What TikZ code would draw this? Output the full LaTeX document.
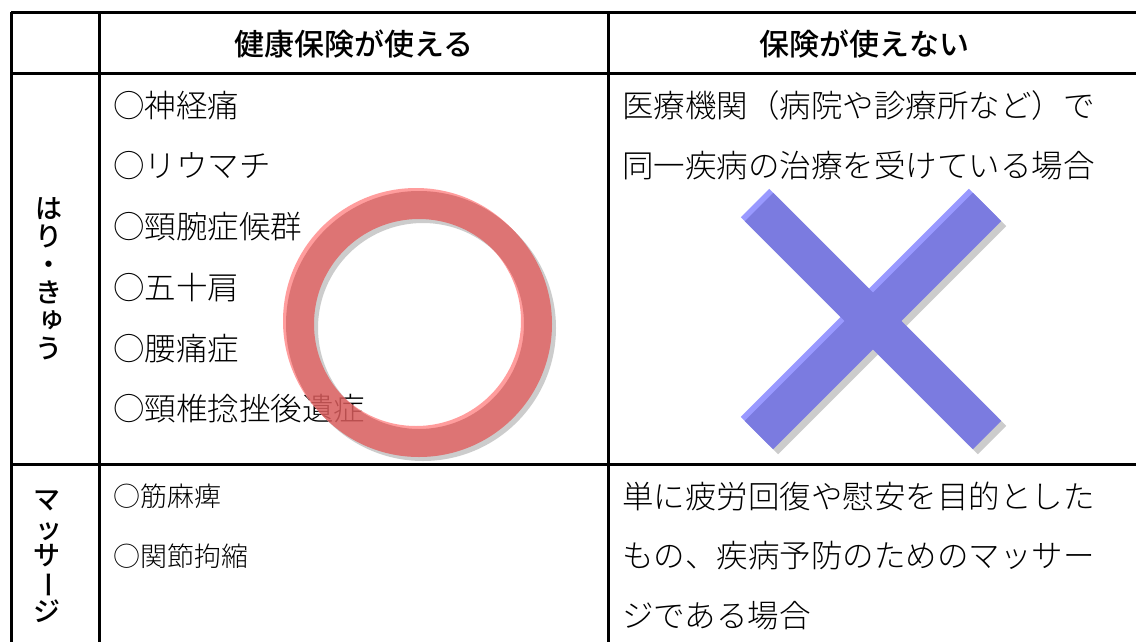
\documentclass[tikz,border=0pt]{standalone}
\usepackage{fontspec}
\newfontfamily\jpgoth{Noto Sans CJK JP}[UprightFont={* Medium}]
\newfontfamily\jplight{Noto Sans CJK JP}[UprightFont={* Light}]
\definecolor{ringmain}{RGB}{216,92,92}
\definecolor{ringlight}{RGB}{255,140,140}
\definecolor{ringshadow}{RGB}{196,196,196}
\definecolor{xmain}{RGB}{123,123,224}
\definecolor{xlight}{RGB}{153,153,255}
\definecolor{xshadow}{RGB}{204,204,204}
\tikzset{
  gridline/.style={line width=3pt, black},
  headtext/.style={font=\jpgoth\fontsize{30}{30}\selectfont, inner sep=0pt},
  sidechar/.style={font=\jpgoth\fontsize{27}{27}\selectfont, inner sep=0pt, text height=20pt, text depth=2pt},
  bodytext/.style={font=\jplight\fontsize{31.5}{31.5}\selectfont, anchor=west, inner sep=0pt},
  smalltext/.style={font=\jplight\fontsize{27}{27}\selectfont, anchor=west, inner sep=0pt},
  xbar/.style={line width=40pt, line cap=butt},
}
\begin{document}
\begin{tikzpicture}[x=1pt, y=-1pt]
\useasboundingbox (0,0) rectangle (1136,641);
\fill[white] (0,0) rectangle (1136,641);
\clip (0,0) rectangle (1136,641);
% grid
\coordinate (tl) at (11,12);
\coordinate (tr) at (1140,12);
\coordinate (hl) at (11,73);
\coordinate (hr) at (1140,73);
\coordinate (rl) at (11,464);
\coordinate (rr) at (1140,464);
\coordinate (bl) at (11,650);
\coordinate (c1t) at (99,12);
\coordinate (c1b) at (99,650);
\coordinate (c2t) at (608,12);
\coordinate (c2b) at (608,650);
\draw[gridline] (tl) -- (tr);
\draw[gridline] (hl) -- (hr);
\draw[gridline] (rl) -- (rr);
\draw[gridline] (tl) -- (bl);
\draw[gridline] (c1t) -- (c1b);
\draw[gridline] (c2t) -- (c2b);
% headers
\node[headtext] (h1) at (354,44) {健康保険が使える};
\node[headtext] (h2) at (864,44) {保険が使えない};
% side labels (vertical)
\node[sidechar] (s1a) at (49,209) {は};
\node[sidechar] (s1b) at (49,237) {り};
\node[sidechar] (s1c) at (49,265) {・};
\node[sidechar] (s1d) at (49,293) {き};
\node[sidechar] (s1e) at (52,318) {ゅ};
\node[sidechar] (s1f) at (49,349) {う};
\node[sidechar] (s2a) at (47,500) {マ};
\node[sidechar] (s2b) at (49,529) {ッ};
\node[sidechar] (s2c) at (47,556) {サ};
\node[sidechar, rotate=-90] (s2d) at (47,585) {ー};
\node[sidechar] (s2e) at (47,612) {ジ};
% body left top
\node[bodytext] (a1) at (113,106) {○神経痛};
\node[bodytext] (a2) at (113,166) {○リウマチ};
\node[bodytext] (a3) at (113,227) {○頸腕症候群};
\node[bodytext] (a4) at (113,288) {○五十肩};
\node[bodytext] (a5) at (113,349) {○腰痛症};
\node[bodytext] (a6) at (113,409) {○頸椎捻挫後遺症};
% body right top
\node[bodytext] (b1) at (622,106) {医療機関（病院や診療所など）で};
\node[bodytext] (b2) at (622,166) {同一疾病の治療を受けている場合};
% body left bottom
\node[smalltext] (c1) at (113,496) {○筋麻痺};
\node[smalltext] (c2) at (113,556) {○関節拘縮};
% body right bottom
\node[bodytext] (d1) at (622,496) {単に疲労回復や慰安を目的とした};
\node[bodytext] (d2) at (622,556) {もの、疾病予防のためのマッサー};
\node[bodytext] (d3) at (622,616) {ジである場合};
% ring
\begin{scope}[transparency group, opacity=0.85]
  \fill[ringshadow, even odd rule] (423,328) circle (133pt) (423,328) circle (105pt);
  \fill[ringlight, even odd rule] (416,321) circle (133pt) (416,321) circle (105pt);
  \fill[ringmain, even odd rule] (419,324) circle (133pt) (419,324) circle (105pt);
\end{scope}
% cross
\draw[xbar, xshadow] (764,212) -- (992,440);
\draw[xbar, xshadow] (992,212) -- (764,440);
\draw[xbar, xlight] (755,203) -- (983,431);
\draw[xbar, xlight] (983,203) -- (755,431);
\draw[xbar, xmain] (759,207) -- (987,435);
\draw[xbar, xmain] (987,207) -- (759,435);
\end{tikzpicture}
\end{document}
